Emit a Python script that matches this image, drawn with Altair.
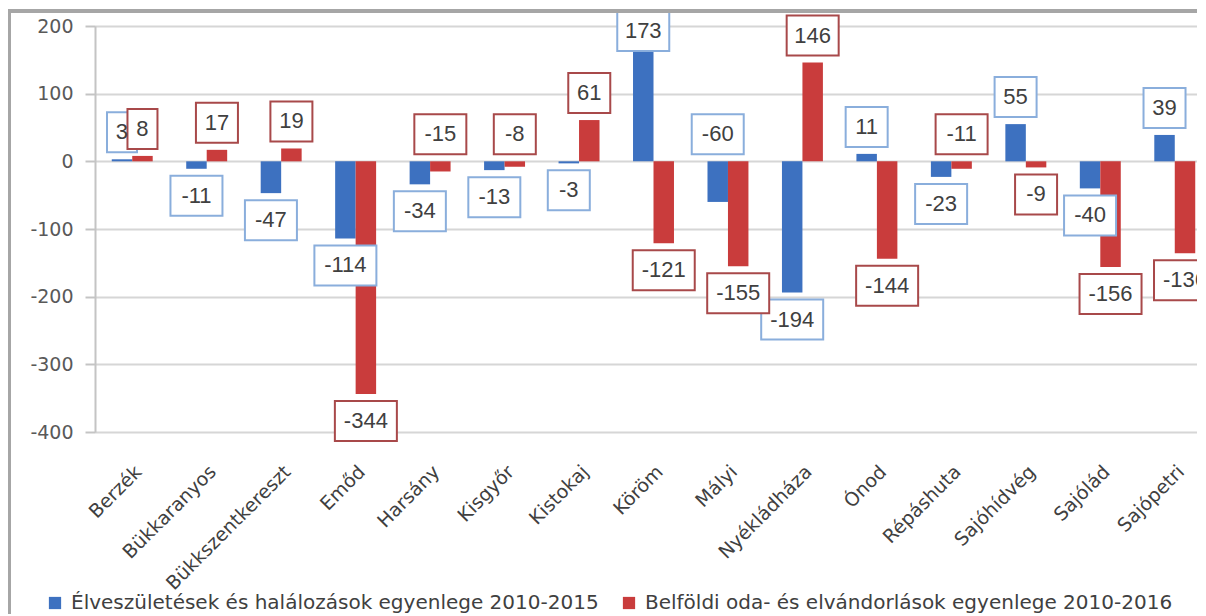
import altair as alt
import pandas as pd

categories = ["Berzék", "Bükkaranyos", "Bükkszentkereszt", "Emőd", "Harsány", "Kisgyőr",
              "Kistokaj", "Köröm", "Mályi", "Nyékládháza", "Ónod", "Répáshuta",
              "Sajóhídvég", "Sajólád", "Sajópetri"]
series_names = ["Élveszületések és halálozások egyenlege 2010-2015",
                "Belföldi oda- és elvándorlások egyenlege 2010-2016"]
natural = [3, -11, -47, -114, -34, -13, -3, 173, -60, -194, 11, -23, 55, -40, 39]
migration = [8, 17, 19, -344, -15, -8, 61, -121, -155, 146, -144, -11, -9, -156, -136]
# which side of the zero line each data label sits on (as in the original)
natural_label_above = [1, 0, 0, 0, 0, 0, 0, 1, 1, 0, 1, 0, 1, 0, 1]
migration_label_above = [1, 1, 1, 0, 1, 1, 1, 0, 0, 1, 0, 1, 0, 0, 0]
y_ticks = [-400, -300, -200, -100, 0, 100, 200]

BLUE = "#3d71c0"
RED = "#c93c3c"
FONT = "Liberation Sans"
WIDE = "DejaVu Sans"

W, H = 1117, 406
YMIN, YMAX = -400, 200
ppu = H / (YMAX - YMIN)  # pixels per data unit
off = 27 / ppu           # label centre offset from bar end
half = 20 / ppu          # half box height
top_centre = YMAX - 5 / ppu

rows = []
for s, vals, sides in zip(series_names, [natural, migration],
                          [natural_label_above, migration_label_above]):
    for c, v, up in zip(categories, vals, sides):
        lbl = str(v)
        centre = max(v, 0) + off if up else min(v, 0) - off
        centre = min(centre, top_centre)
        bw = {1: 30, 2: 42, 3: 52, 4: 62}[len(lbl)]
        rows.append({"cat": c, "series": s, "value": v, "lbl": lbl,
                     "lc": centre, "lt": centre + half, "lb": centre - half, "bw": bw})
df = pd.DataFrame(rows)

x = alt.X("cat:N", sort=categories, title=None,
          scale=alt.Scale(paddingInner=0.45, paddingOuter=0.225),
          axis=alt.Axis(labelAngle=-45, labelFontSize=19, labelColor="#404040",
                        labelFont=WIDE, domain=False, ticks=False, labelPadding=30,
                        labelLimit=400))
xo = alt.XOffset("series:N", sort=series_names)
color = alt.Color("series:N", sort=series_names,
                  scale=alt.Scale(domain=series_names, range=[BLUE, RED]),
                  legend=alt.Legend(orient="none", legendX=-50, legendY=567,
                                    direction="horizontal", title=None,
                                    symbolType="square", symbolSize=150,
                                    labelFontSize=20, labelFont=WIDE,
                                    labelColor="#404040", labelLimit=800,
                                    columnPadding=20, labelOffset=6,
                                    symbolStrokeWidth=0))

yscale = alt.Scale(domain=[YMIN, YMAX], nice=False)
y = alt.Y("value:Q", title=None, scale=yscale,
          axis=alt.Axis(values=y_ticks, labelFontSize=19, labelColor="#595959",
                        labelFont=WIDE, domainColor="#c4c4c4", domainWidth=2,
                        tickColor="#c4c4c4", tickSize=10, tickWidth=2,
                        labelPadding=12, gridColor="#d6d6d6", gridWidth=2,
                        labelExpr="toString(datum.value)"))

base = alt.Chart(df)

bars = base.mark_bar().encode(x=x, xOffset=xo, y=y, y2=alt.datum(0), color=color)

boxes = base.mark_bar(fill="white", strokeWidth=2).encode(
    x=x, xOffset=xo,
    y=alt.Y("lt:Q", scale=yscale),
    y2="lb:Q",
    size=alt.Size("bw:Q", scale=None, legend=None),
    stroke=alt.Stroke("series:N", sort=series_names,
                      scale=alt.Scale(domain=series_names, range=["#8aaedc", "#a8494a"]),
                      legend=None),
)

texts = base.mark_text(fontSize=22, font=FONT, color="#404040", baseline="middle").encode(
    x=x, xOffset=xo,
    y=alt.Y("lc:Q", scale=yscale),
    text="lbl:N",
)

frame_top = alt.Chart(df).mark_rule(color="#a6a6a6", strokeWidth=3).encode(
    x=alt.value(-90), x2=alt.value(W + 20), y=alt.value(-15))
frame_left = alt.Chart(df).mark_rule(color="#a6a6a6", strokeWidth=3).encode(
    x=alt.value(-86), y=alt.value(-15), y2=alt.value(H + 200))

chart = alt.layer(bars, boxes, texts, frame_top, frame_left).properties(
    width=W, height=H,
    autosize=alt.AutoSizeParams(type="none"),
    padding={"left": 87, "top": 18, "right": -15, "bottom": 182},
).configure_view(stroke=None).configure(background="white")

chart.save("out.html", embed_options={"renderer": "svg", "actions": False})
